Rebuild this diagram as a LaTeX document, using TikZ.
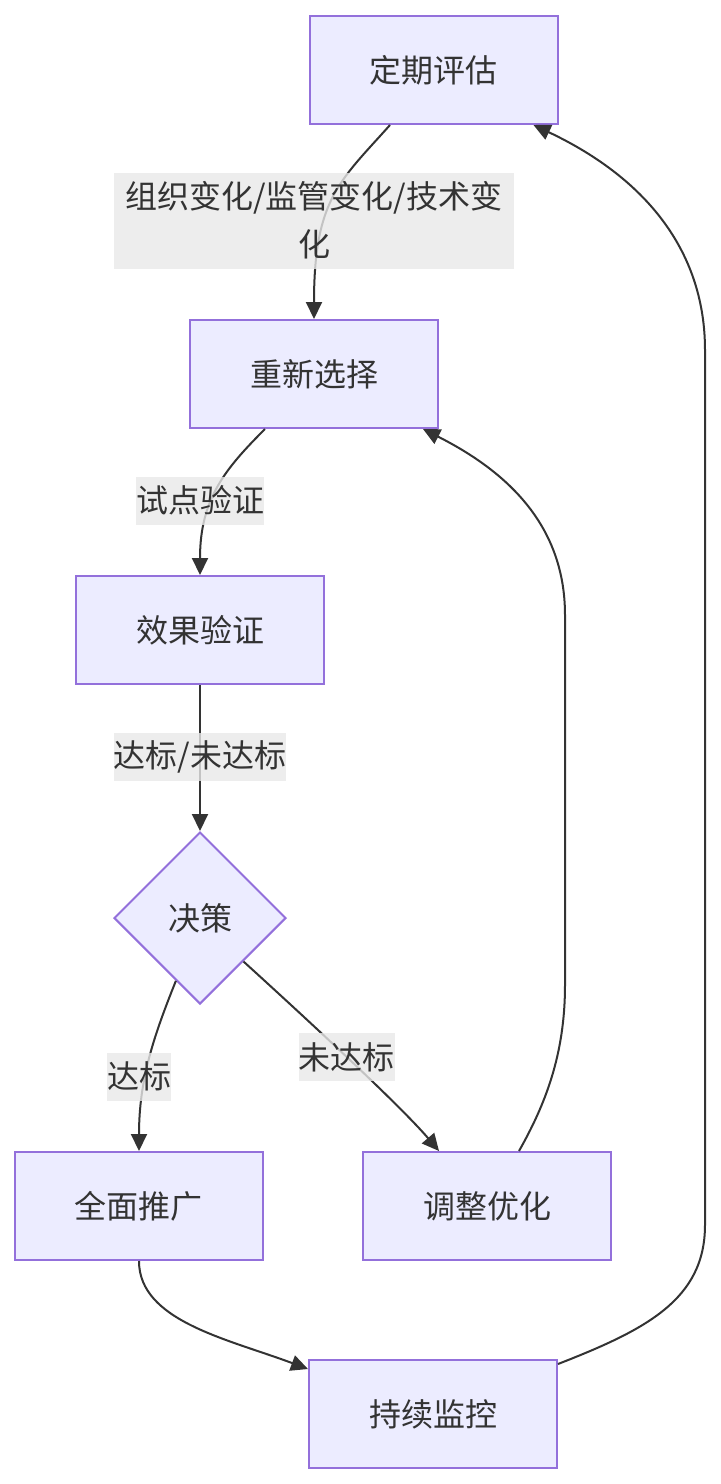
\documentclass[tikz,border=0pt]{standalone}
\usepackage{fontspec}
\setmainfont{Noto Sans CJK SC}
\usepackage{tikz}
\usetikzlibrary{arrows.meta, positioning, shapes.geometric, calc}
\usepackage{xcolor}
\definecolor{boxfill}{HTML}{ECECFF}
\definecolor{boxline}{HTML}{9370DB}
\definecolor{edgecol}{HTML}{333333}
\definecolor{lblfill}{HTML}{E8E8E8}

\begin{document}
\begin{tikzpicture}[
  x=0.5pt, y=-0.5pt,
  stepbox/.style={rectangle, draw=boxline, fill=boxfill, line width=1pt,
               minimum width=124pt, minimum height=54pt, text=edgecol,
               font=\fontsize{16pt}{24pt}\selectfont},
  choice/.style={diamond, draw=boxline, fill=boxfill, line width=1pt,
               minimum width=86pt, minimum height=86pt, inner sep=0pt,
               text=edgecol, font=\fontsize{16pt}{24pt}\selectfont},
  lbl/.style={rectangle, fill=lblfill, fill opacity=0.8, text opacity=1,
               inner xsep=0pt, inner ysep=0pt, minimum height=24pt, align=center,
               text=edgecol, font=\fontsize{16pt}{24pt}\selectfont},
  arr/.style={-{Triangle[length=8.5pt,width=8pt]}, line width=1pt, edgecol}
]
\useasboundingbox (0,0) rectangle (721,1484);

\node[stepbox] (eval) at (433.5,70) {定期评估};
\node[stepbox, below=97pt of eval, xshift=-59.75pt] (resel) {重新选择};
\node[stepbox, below=73pt of resel, xshift=-57pt] (check) {效果验证};
\node[choice, below=73pt of check] (decide) {决策};
\node[stepbox, below=73pt of decide, xshift=-30.5pt] (spread) {全面推广};
\node[stepbox, right=49pt of spread] (adjust) {调整优化};
\node[stepbox, below right=49pt and 22pt of spread] (monitor) {持续监控};

\draw[arr] ([xshift=-21.75pt]eval.south) .. controls +(-50,56) and +(0,-120) .. (resel.north);
\draw[arr] ([xshift=-24.5pt]resel.south) .. controls +(-40,40) and +(0,-76) .. (check.north);
\draw[arr] (check) -- (decide);
\draw[arr] (decide.249) .. controls +(-22,55) and +(0,-72) .. (spread.north);
\draw[arr] (decide.south east) .. controls +(55,50) and +(-40,-47) .. ([xshift=-24pt]adjust.north)
  node[lbl, midway] (l5) {未达标};

% loops back up
\draw[arr] ([xshift=16pt]adjust.north) .. controls (545,1105) and (565,1055) .. (565,985)
  -- (565,615) .. controls (565,520) and (500,468) .. ([xshift=-8pt]resel.south east);
\draw[arr] (spread.south) .. controls +(0,60) and +(-80,-30) .. ([yshift=-5pt]monitor.north west);
\draw[arr] ([yshift=-2.5pt]monitor.north east) .. controls (645,1330) and (705,1300) .. (705,1225)
  -- (705,350) .. controls (705,255) and (650,180) .. ([xshift=-12.5pt]eval.south east);

\node[lbl, above=25pt of resel, inner xsep=5.5pt, minimum height=48pt] (l1) {组织变化/监管变化/技术变\\化};
\node[lbl, above=25pt of check] (l2) {试点验证};
\node[lbl, above=25pt of decide] (l3) {达标/未达标};
\node[lbl, above=25pt of spread] (l4) {达标};
\end{tikzpicture}
\end{document}
